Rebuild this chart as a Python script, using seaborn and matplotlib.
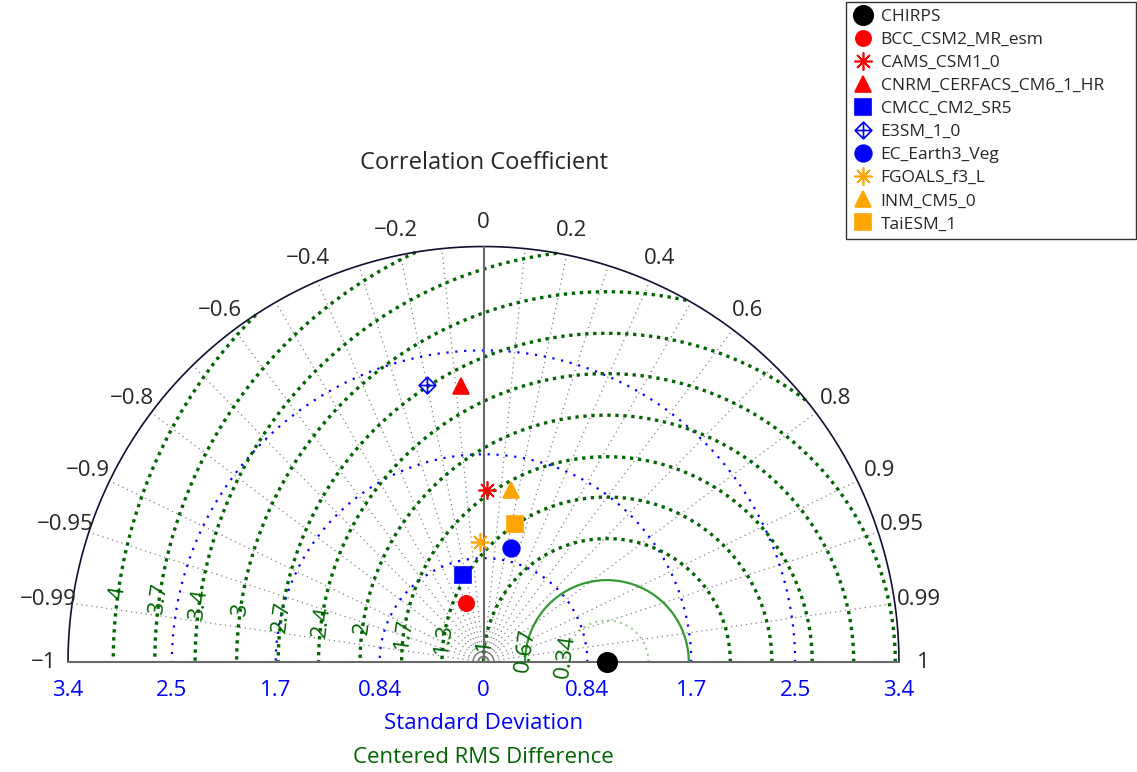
import numpy as np
import pandas as pd
import matplotlib
matplotlib.use("Agg")
import matplotlib.pyplot as plt
from matplotlib.path import Path
from matplotlib.lines import Line2D
import seaborn as sns

sns.set_style("white")
plt.rcParams['font.family'] = ['Open Sans', 'DejaVu Sans']

# data
models = ["CHIRPS", "BCC_CSM2_MR_esm", "CAMS_CSM1_0", "CNRM_CERFACS_CM6_1_HR", "CMCC_CM2_SR5",
          "E3SM_1_0", "EC_Earth3_Veg", "FGOALS_f3_L", "INM_CM5_0", "TaiESM_1"]
std_devs = [1.01, 0.507, 1.408, 2.266, 0.732, 2.313, 0.957, 0.985, 1.425, 1.158]
corrs = [1.0, -0.288, 0.019, -0.082, -0.232, -0.199, 0.233, -0.029, 0.158, 0.223]
colors = ["black", "red", "red", "red", "blue", "blue", "blue", "orange", "orange", "orange"]

corr_ticks = [-1, -0.99, -0.95, -0.9, -0.8, -0.6, -0.4, -0.2, 0, 0.2, 0.4, 0.6, 0.8, 0.9, 0.95, 0.99, 1]
corr_labels = ["\u22121", "\u22120.99", "\u22120.95", "\u22120.9", "\u22120.8", "\u22120.6", "\u22120.4", "\u22120.2",
               "0", "0.2", "0.4", "0.6", "0.8", "0.9", "0.95", "0.99", "1"]
corr_grid = [-0.99, -0.95, -0.9, -0.8, -0.7, -0.6, -0.5, -0.4, -0.3, -0.2, -0.1,
             0.1, 0.2, 0.3, 0.4, 0.5, 0.6, 0.7, 0.8, 0.9, 0.95, 0.99]
std_ticks = [0.85, 1.7, 2.55, 3.4]
std_labels = ["0.84", "1.7", "2.5", "3.4"]
rms_levels = [0.34, 0.67, 1.01, 1.35, 1.68, 2.02, 2.36, 2.69, 3.03, 3.37, 3.7, 4.04]
rms_labels = ["0.34", "0.67", "1", "1.3", "1.7", "2", "2.4", "2.7", "3", "3.4", "3.7", "4"]

std_max = 3.4
ref_std = std_devs[0]

# markers
asterisk = (8, 2, 0)
diamond_cross = Path([(0, 1), (1, 0), (0, -1), (-1, 0), (0, 1), (0, 1), (0, -1), (-1, 0), (1, 0)],
                     [Path.MOVETO, Path.LINETO, Path.LINETO, Path.LINETO, Path.CLOSEPOLY,
                      Path.MOVETO, Path.LINETO, Path.MOVETO, Path.LINETO])
markers = ["o", "o", asterisk, "^", "s", diamond_cross, "o", asterisk, "^", "s"]
msizes = [14, 11, 13, 12, 11, 12, 12, 13, 12, 11]

fig = plt.figure(figsize=(11.37, 7.72), dpi=100)
ax = fig.add_axes([0, 0, 1, 1])
scale = 122.2
ax.set_xlim(-483.5 / scale, (1137 - 483.5) / scale)
ax.set_ylim(-(772 - 662) / scale, 662 / scale)
ax.set_aspect("equal")
ax.axis("off")


def arc(df_x, df_y, **kw):
    d = pd.DataFrame({"x": df_x, "y": df_y})
    sns.lineplot(data=d, x="x", y="y", sort=False, estimator=None, ax=ax, legend=False, **kw)


th = np.linspace(0, np.pi, 400)

# radial grid
for c in corr_grid:
    a = np.arccos(c)
    arc([0, std_max * np.cos(a)], [0, std_max * np.sin(a)], color="gray", lw=0.9, linestyle=(0, (1, 3)))

# small circles at the origin
for r in [0.04, 0.085]:
    arc(r * np.cos(th), r * np.sin(th), color="gray", lw=1)

# std circles
for r in std_ticks[:-1]:
    arc(r * np.cos(th), r * np.sin(th), color="blue", lw=1.6, linestyle=(0, (1, 3)))

# rms circles
for r in rms_levels:
    x = ref_std + r * np.cos(th)
    y = r * np.sin(th)
    keep = x ** 2 + y ** 2 <= std_max ** 2
    if r < 0.5:
        arc(x[keep], y[keep], color="green", lw=1.5, alpha=0.4, linestyle=(0, (1, 2)))
    elif r < 0.8:
        arc(x[keep], y[keep], color="green", lw=1.6, alpha=0.8)
    else:
        arc(x[keep], y[keep], color="darkgreen", lw=2.4, linestyle=(0, (1, 1.4)))

ang = np.deg2rad(172)
for r, lab in zip(rms_levels, rms_labels):
    ax.text(ref_std + r * np.cos(ang), r * np.sin(ang), lab, color="darkgreen", fontsize=16,
            rotation=82, ha="center", va="center")

# outer arc and axes
arc(std_max * np.cos(th), std_max * np.sin(th), color="#101030", lw=1.2)
arc([-std_max, std_max], [0, 0], color="dimgray", lw=1.5)
arc([0, 0], [0, std_max], color="dimgray", lw=1.5)

# correlation labels
for c, lab in zip(corr_ticks, corr_labels):
    a = np.arccos(c)
    ax.text(3.6 * np.cos(a), 3.6 * np.sin(a), lab, fontsize=16, ha="center", va="center")
ax.text(0, 4.08, "Correlation Coefficient", fontsize=17, ha="center", va="center")

# std labels
ax.text(0, -0.23, "0", color="blue", fontsize=16, ha="center", va="center")
for s, lab in zip(std_ticks, std_labels):
    ax.text(s, -0.23, lab, color="blue", fontsize=16, ha="center", va="center")
    ax.text(-s, -0.23, lab, color="blue", fontsize=16, ha="center", va="center")
ax.text(0, -0.5, "Standard Deviation", color="blue", fontsize=16, ha="center", va="center")
ax.text(0, -0.785, "Centered RMS Difference", color="darkgreen", fontsize=16, ha="center", va="center")

# points
handles = []
for name, s, c, col, m, ms in zip(models, std_devs, corrs, colors, markers, msizes):
    a = np.arccos(c)
    face = "none" if m is diamond_cross else col
    ax.plot(s * np.cos(a), s * np.sin(a), marker=m, ms=ms, color=col, mfc=face, mec=col,
            mew=1.2, linestyle="none", zorder=5)
    handles.append(Line2D([], [], marker=m, ms=ms, color=col, mfc=face, mec=col, mew=1.2,
                          linestyle="none", label=name))

leg = ax.legend(handles=handles, loc="upper left", bbox_to_anchor=(0.744, 0.998, 0.255, 0.0),
                mode="expand", fontsize=12.5, frameon=True, fancybox=False, edgecolor="black",
                handlelength=1.2, handletextpad=0.4, labelspacing=0.4, borderpad=0.4, borderaxespad=0)
leg.get_frame().set_linewidth(1)

fig.savefig("out.png", dpi=100)
